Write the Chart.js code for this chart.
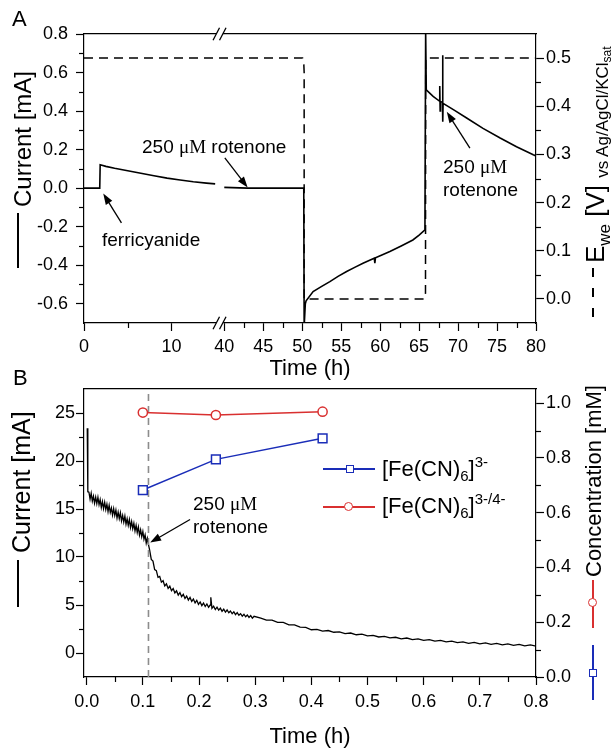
<!DOCTYPE html>
<html><head><meta charset="utf-8">
<script src="https://cdn.jsdelivr.net/npm/chart.js@4.4.0/dist/chart.umd.min.js"></script>
<style>
html,body{margin:0;padding:0;background:#fff;}
#wrap{position:relative;width:613px;height:748px;overflow:hidden;font-family:"Liberation Sans",Arial,sans-serif;color:#000;}
.cv{position:absolute;left:0;z-index:0;}
.t{position:absolute;white-space:nowrap;line-height:1;z-index:2;}
.r{transform-origin:0 0;transform:rotate(-90deg);}
.mu{font-family:"Liberation Serif","Times New Roman",serif;}
.sub{position:relative;}
.bx{position:absolute;z-index:3;}
</style></head><body>
<div id="wrap">
  <canvas id="cA" class="cv" width="613" height="385" style="top:0;"></canvas>
  <canvas id="cB" class="cv" width="613" height="376" style="top:372px;"></canvas>

  <!-- panel letters -->
  <div class="t" style="left:12px;top:8px;font-size:22px;">A</div>
  <div class="t" style="left:13px;top:367px;font-size:22px;">B</div>

  <!-- panel A annotations -->
  <div class="t" style="left:102px;top:230px;font-size:19px;">ferricyanide</div>
  <div class="t" style="left:142px;top:137px;font-size:19px;">250 <span class="mu">μM</span> rotenone</div>
  <div class="t" style="left:443px;top:157px;font-size:19px;">250 <span class="mu">μM</span></div>
  <div class="t" style="left:443px;top:180px;font-size:19px;">rotenone</div>

  <!-- panel A axis titles -->
  <div class="t r" style="left:11px;top:207px;font-size:24px;">Current [mA]</div>
  <div class="bx" style="left:17px;top:213px;width:2px;height:55px;background:#000;"></div>
  <div class="t r" style="left:582px;top:263px;font-size:26px;">E<span class="sub" style="font-size:17px;top:6px;">we</span> [V] <span class="sub" style="font-size:17px;top:4px;">vs Ag/AgCl/KCl<span class="sub" style="font-size:12px;top:3px;">sat</span></span></div>
  <div class="bx" style="left:592px;top:268px;height:50px;width:2px;background:repeating-linear-gradient(to bottom,#000 0 9px,transparent 9px 20px);"></div>

  <!-- panel B annotations -->
  <div class="t" style="left:193px;top:494px;font-size:19px;">250 <span class="mu">μM</span></div>
  <div class="t" style="left:193px;top:517px;font-size:19px;">rotenone</div>

  <!-- panel B legend -->
  <div class="bx" style="left:323px;top:468px;width:52px;height:1.5px;background:#1a2db8;"></div>
  <div class="bx" style="left:345.5px;top:464.5px;width:6px;height:6px;border:1.5px solid #1a2db8;background:#fff;"></div>
  <div class="t" style="left:382px;top:458px;font-size:22px;">[Fe(CN)<span class="sub" style="font-size:15px;top:5px;">6</span>]<span class="sub" style="font-size:15px;top:-9px;">3-</span></div>
  <div class="bx" style="left:323px;top:506px;width:52px;height:1.5px;background:#d93030;"></div>
  <div class="bx" style="left:344px;top:501.5px;width:7px;height:7px;border:1.5px solid #d93030;border-radius:50%;background:#fff;"></div>
  <div class="t" style="left:382px;top:495px;font-size:22px;">[Fe(CN)<span class="sub" style="font-size:15px;top:5px;">6</span>]<span class="sub" style="font-size:15px;top:-9px;">3-/4-</span></div>

  <!-- panel B axis titles -->
  <div class="t r" style="left:9px;top:553px;font-size:25px;">Current [mA]</div>
  <div class="bx" style="left:17px;top:560px;width:2px;height:47px;background:#000;"></div>
  <div class="t r" style="left:583px;top:577px;font-size:22px;">Concentration [mM]</div>
  <div class="bx" style="left:592px;top:580px;width:2px;height:48px;background:#d93030;"></div>
  <div class="bx" style="left:588px;top:598px;width:7px;height:7px;border:1.5px solid #d93030;border-radius:50%;background:#fff;"></div>
  <div class="bx" style="left:592px;top:645px;width:2px;height:55px;background:#1a2db8;"></div>
  <div class="bx" style="left:588.5px;top:669px;width:6px;height:6px;border:1.5px solid #1a2db8;background:#fff;"></div>
</div>
<script>
// ================= DATA: panel A =================
const timeA_h = [0, 1.8, 1.85, 2.5, 3.5, 5, 6.5, 8, 9.5, 11, 12.5, 14, 15, 15.5,
  40, 43, 50.2, 50.25, 50.4, 50.5, 51.4, 52.5, 53.55, 54.6, 55.7, 56.8, 57.8, 58.8,
  59.25, 59.32, 59.4, 60.3, 61.25, 62.7, 64.2, 65.0, 65.75, 65.84, 65.92, 66.8, 67.6,
  67.65, 67.7, 67.75, 68.0, 68.02, 68.05, 68.08, 69.5, 71.1, 73.2, 75.4, 77.5, 79.65, 80];
const currentA_mA = [0, 0, 0.121, 0.113, 0.103, 0.09, 0.077, 0.064, 0.052, 0.042, 0.033, 0.026, 0.022, null,
  0.004, 0.0, 0.0, -0.72, -0.6, -0.585, -0.537, -0.51, -0.485, -0.458, -0.433, -0.41, -0.39, -0.372,
  -0.364, -0.39, -0.362, -0.346, -0.329, -0.3, -0.269, -0.244, -0.217, 0.82, 0.51, 0.476, 0.452,
  0.53, 0.40, 0.45, 0.445, 0.69, 0.345, 0.44, 0.405, 0.364, 0.31, 0.26, 0.215, 0.173, 0.167];
const timeEwe_h = [0, 50.05, 50.2, 50.25, 50.25, 65.7, 65.82, 65.85, 80];
const ewe_V     = [0.5, 0.5, 0.49, 0.47, 0.0, 0.0, 0.012, 0.5, 0.5];
const xTicksA_major = [0, 10, 40, 45, 50, 55, 60, 65, 70, 75, 80];
const xTicksA_minor = [5, 42.5, 47.5, 52.5, 57.5, 62.5, 67.5, 72.5, 77.5];
const yTicksA_major = [-0.6, -0.4, -0.2, 0, 0.2, 0.4, 0.6, 0.8];
const yTicksA_minor = [-0.5, -0.3, -0.1, 0.1, 0.3, 0.5, 0.7];
const yRTicksA_major = [0, 0.1, 0.2, 0.3, 0.4, 0.5];
const yRTicksA_minor = [0.05, 0.15, 0.25, 0.35, 0.45];
const axisBreakA_h = 15.5;
const arrowsA = [ {from:[4.28,-0.18], to:[2.2,-0.028]}, {from:[40.07,0.157], to:[43.0,0.003]}, {from:[71.52,0.208], to:[68.55,0.396]} ];

// ================= DATA: panel B =================
const timeB_h = [0.001,0.002,
  0.004,0.006,0.008,0.010,0.012,0.014,0.016,0.018,0.020,0.022,0.024,0.026,0.028,0.030,0.032,0.034,0.036,0.038,
  0.040,0.042,0.044,0.046,0.048,0.050,0.052,0.054,0.056,0.058,0.060,0.062,0.064,0.066,0.068,0.070,0.072,0.074,
  0.076,0.078,0.080,0.082,0.084,0.086,0.088,0.090,0.092,0.094,0.096,0.098,0.100,0.102,0.104,0.106,0.108,0.110,
  0.112,0.115,0.118,0.121,0.124,0.127,0.130,0.133,0.136,0.139,0.142,0.145,0.148,0.151,0.154,0.157,0.160,0.163,
  0.166,0.169,0.172,0.175,0.178,0.181,0.184,0.187,0.190,0.193,0.196,0.199,0.202,0.205,0.208,0.211,0.214,0.217,
  0.220,0.221,0.223,0.226,0.229,0.232,0.235,0.238,0.241,0.244,0.247,0.250,0.253,0.256,0.259,0.262,0.265,0.268,
  0.271,0.274,0.277,0.280,0.283,0.286,0.289,0.292,0.295,0.298,
  0.31,0.32,0.33,0.34,0.35,0.36,0.37,0.38,0.39,0.40,0.41,0.42,0.43,0.44,0.45,0.46,0.47,0.48,0.49,0.50,
  0.51,0.52,0.53,0.54,0.55,0.56,0.57,0.58,0.59,0.60,0.61,0.62,0.63,0.64,0.65,0.66,0.67,0.68,0.69,0.70,
  0.71,0.72,0.73,0.74,0.75,0.76,0.77,0.78,0.79,0.80];
const currentB_mA = [23.4,16.8,
  16.75,16.02,16.65,15.82,16.34,15.61,16.23,15.56,16.23,15.45,15.97,15.15,15.77,15.04,15.71,14.94,15.51,14.73,
  15.40,14.63,15.10,14.37,15.04,14.32,14.89,14.06,14.67,13.99,14.60,13.76,14.33,13.64,14.26,13.42,13.98,13.30,
  13.91,13.07,13.69,12.95,13.51,12.71,13.30,12.55,13.14,12.29,12.83,12.12,12.67,11.85,12.30,11.45,11.95,11.3,
  10.75,9.75,9.58,8.68,8.58,7.88,7.98,7.38,7.53,6.98,7.2,6.72,6.96,6.49,6.72,6.25,6.47,6.04,
  6.3,5.86,6.11,5.68,5.93,5.51,5.79,5.37,5.62,5.22,5.49,5.07,5.32,4.94,5.2,4.84,5.11,4.77,
  5.0,5.8,4.65,4.88,4.53,4.77,4.46,4.68,4.35,4.56,4.26,4.48,4.19,4.38,4.09,4.29,4.0,4.2,
  3.93,4.1,3.84,4.04,3.77,3.96,3.7,3.89,3.63,3.82,
  3.64,3.42,3.42,3.18,3.18,2.94,2.94,2.7,2.66,2.42,2.46,2.27,2.34,2.16,2.21,2.02,2.08,1.9,1.96,1.78,
  1.84,1.67,1.74,1.57,1.64,1.48,1.56,1.4,1.48,1.32,1.4,1.24,1.32,1.16,1.24,1.08,1.16,1.01,1.1,0.96,
  1.05,0.9,1.0,0.85,0.95,0.8,0.9,0.75,0.85,0.72];
const sampleTimes_h   = [0.1, 0.23, 0.42];
const ferricyanide_mM = [0.683, 0.795, 0.872];
const totalFeCN_mM    = [0.966, 0.957, 0.969];
const rotenoneTimeB_h = 0.11;
const xTicksB_major = [0, 0.1, 0.2, 0.3, 0.4, 0.5, 0.6, 0.7, 0.8];
const xTicksB_minor = [0.05, 0.15, 0.25, 0.35, 0.45, 0.55, 0.65, 0.75];
const yTicksB_major = [0, 5, 10, 15, 20, 25];
const yTicksB_minor = [2.5, 7.5, 12.5, 17.5, 22.5];
const yRTicksB_major = [0, 0.2, 0.4, 0.6, 0.8, 1.0];
const yRTicksB_minor = [0.1, 0.3, 0.5, 0.7, 0.9];
const arrowsB = [ {from:[0.184,13.9], to:[0.113,11.5]} ];

// ================= helpers =================
const FONT = '"Liberation Sans", Arial, sans-serif';
Chart.defaults.font.family = FONT;
Chart.defaults.font.size = 18;
Chart.defaults.color = '#000';

// broken time axis of panel A: 0-15.5 h compressed segment, then 40-80 h
function uA(t){ return t <= 20 ? t * 1.122 : t - 22; }

function tickList(major, map, fmt){
  return major.map(v => ({value: map(v), lab: fmt(v)}));
}
function axis(pos, min, max, ticks, size, pad, extra){
  return Object.assign({
    type:'linear', position:pos, min, max,
    afterBuildTicks: s => { s.ticks = ticks.map(o => Object.assign({}, o)); },
    afterFit: s => { if (pos === 'left' || pos === 'right') s.width = size; else s.height = size; },
    ticks:{ autoSkip:false, maxRotation:0, padding:pad, color:'#000', font:{size:18},
      callback: (v, i, tk) => tk[i] ? tk[i].lab : '' },
    grid:{ drawOnChartArea:false, color:'#000', tickLength:8, tickWidth:1.2 },
    border:{ display:true, color:'#000', width:1.2 }
  }, extra || {});
}
function topFrame(h){
  return { type:'linear', position:'top', min:0, max:1, ticks:{display:false},
    grid:{display:false, drawTicks:false}, border:{display:true, color:'#000', width:1.2},
    afterFit: s => { s.height = h; } };
}
// short minor tick marks, placed through the scales
function minorTicks(spec){
  return { id:'minorTicks', afterDraw(chart){
    const ctx = chart.ctx, ca = chart.chartArea;
    ctx.save(); ctx.strokeStyle = '#000'; ctx.lineWidth = 1.2;
    spec.forEach(s => {
      const sc = chart.scales[s.id];
      s.values.forEach(v => {
        const p = Math.round(sc.getPixelForValue(s.map(v))) + 0.5;
        ctx.beginPath();
        if (sc.position === 'left') { ctx.moveTo(ca.left, p); ctx.lineTo(ca.left - 5, p); }
        else if (sc.position === 'right') { ctx.moveTo(ca.right, p); ctx.lineTo(ca.right + 5, p); }
        else { ctx.moveTo(p, ca.bottom); ctx.lineTo(p, ca.bottom + 5); }
        ctx.stroke();
      });
    });
    ctx.restore();
  }};
}
function drawArrow(ctx, x1, y1, x2, y2){
  const a = Math.atan2(y2 - y1, x2 - x1), L = 11, W = 3.8;
  ctx.beginPath(); ctx.moveTo(x1, y1); ctx.lineTo(x2 - Math.cos(a)*L*0.7, y2 - Math.sin(a)*L*0.7); ctx.stroke();
  ctx.beginPath(); ctx.moveTo(x2, y2);
  ctx.lineTo(x2 - L*Math.cos(a) + W*Math.sin(a), y2 - L*Math.sin(a) - W*Math.cos(a));
  ctx.lineTo(x2 - L*Math.cos(a) - W*Math.sin(a), y2 - L*Math.sin(a) + W*Math.cos(a));
  ctx.closePath(); ctx.fill();
}
function arrowPlugin(list, xmap){
  return { id:'arrows', afterDatasetsDraw(chart){
    const ctx = chart.ctx, xs = chart.scales.x, ys = chart.scales.y;
    ctx.save(); ctx.strokeStyle = '#000'; ctx.fillStyle = '#000'; ctx.lineWidth = 1.3;
    list.forEach(a => drawArrow(ctx, xs.getPixelForValue(xmap(a.from[0])), ys.getPixelForValue(a.from[1]),
                                      xs.getPixelForValue(xmap(a.to[0])), ys.getPixelForValue(a.to[1])));
    ctx.restore();
  }};
}
const breakPlugin = { id:'axisBreak', afterDraw(chart){
  const ctx = chart.ctx, ca = chart.chartArea;
  const bx = chart.scales.x.getPixelForValue(uA(axisBreakA_h));
  ctx.save();
  [ca.top, ca.bottom].forEach(y => {
    ctx.fillStyle = '#fff';
    ctx.beginPath(); ctx.moveTo(bx - 6.5, y + 6.3); ctx.lineTo(bx, y - 6.3); ctx.lineTo(bx + 6.5, y - 6.3); ctx.lineTo(bx, y + 6.3); ctx.closePath(); ctx.fill();
    ctx.strokeStyle = '#000'; ctx.lineWidth = 1.3;
    ctx.beginPath();
    ctx.moveTo(bx - 6.5, y + 6.3); ctx.lineTo(bx, y - 6.3);
    ctx.moveTo(bx, y + 6.3); ctx.lineTo(bx + 6.5, y - 6.3);
    ctx.stroke();
  });
  ctx.restore();
}};

// ================= chart A =================
const fmt1 = v => v.toFixed(1);
const ident = v => v;
new Chart(document.getElementById('cA'), {
  type:'line',
  data:{ datasets:[
    { label:'Current', data: timeA_h.map((t,i) => ({x: uA(t), y: currentA_mA[i]})), xAxisID:'x', yAxisID:'y',
      borderColor:'#000', borderWidth:1.6, pointRadius:0, tension:0, spanGaps:false },
    { label:'Ewe', data: timeEwe_h.map((t,i) => ({x: uA(t), y: ewe_V[i]})), xAxisID:'x', yAxisID:'yR',
      borderColor:'#000', borderWidth:1.5, borderDash:[9,6], pointRadius:0, tension:0 }
  ]},
  options:{
    responsive:false, animation:false,
    layout:{padding:0},
    plugins:{ legend:{display:false}, tooltip:{enabled:false} },
    scales:{
      x: axis('bottom', 0, uA(80), tickList(xTicksA_major, uA, v => String(v)), 62, 5,
        { title:{display:true, text:'Time (h)', color:'#000', font:{size:22, lineHeight:1}, padding:{top:0,bottom:5}} }),
      x2: topFrame(34),
      y: axis('left', -0.7, 0.8, tickList(yTicksA_major, ident, fmt1), 84, 8),
      yR: axis('right', -0.05, 0.55, tickList(yRTicksA_major, ident, fmt1), 77, 2)
    }
  },
  plugins:[breakPlugin, arrowPlugin(arrowsA, uA),
    minorTicks([{id:'x', values:xTicksA_minor, map:uA}, {id:'y', values:yTicksA_minor, map:ident}, {id:'yR', values:yRTicksA_minor, map:ident}])]
});

// ================= chart B =================
new Chart(document.getElementById('cB'), {
  type:'line',
  data:{ datasets:[
    { label:'[Fe(CN)6]3-/4-', data: sampleTimes_h.map((t,i) => ({x:t, y: totalFeCN_mM[i]})), yAxisID:'yR',
      borderColor:'#d93030', borderWidth:1.4, pointStyle:'circle', pointRadius:4.6, pointBorderWidth:1.5,
      pointBackgroundColor:'#fff', pointBorderColor:'#d93030' },
    { label:'[Fe(CN)6]3-', data: sampleTimes_h.map((t,i) => ({x:t, y: ferricyanide_mM[i]})), yAxisID:'yR',
      borderColor:'#1a2db8', borderWidth:1.4, pointStyle:'rect', pointRadius:6.2, pointBorderWidth:1.5,
      pointBackgroundColor:'#fff', pointBorderColor:'#1a2db8' },
    { label:'rotenone', data:[{x:rotenoneTimeB_h, y:-2.5}, {x:rotenoneTimeB_h, y:27.5}], yAxisID:'y',
      borderColor:'#8c8c8c', borderWidth:1.6, borderDash:[7,5], pointRadius:0 },
    { label:'Current', data: timeB_h.map((t,i) => ({x:t, y: currentB_mA[i]})), yAxisID:'y',
      borderColor:'#000', borderWidth:1.3, pointRadius:0, tension:0 }
  ]},
  options:{
    responsive:false, animation:false,
    layout:{padding:0},
    plugins:{ legend:{display:false}, tooltip:{enabled:false} },
    scales:{
      x: axis('bottom', -0.0048, 0.8, tickList(xTicksB_major, ident, fmt1), 71, 6,
        { title:{display:true, text:'Time (h)', color:'#000', font:{size:22, lineHeight:1}, padding:{top:0,bottom:0}} }),
      x2: topFrame(17),
      y: axis('left', -2.5, 27.5, tickList(yTicksB_major, ident, v => String(v)), 84, 1),
      yR: axis('right', 0, 1.052, tickList(yRTicksB_major, ident, fmt1), 77, 2)
    }
  },
  plugins:[arrowPlugin(arrowsB, ident),
    minorTicks([{id:'x', values:xTicksB_minor, map:ident}, {id:'y', values:yTicksB_minor, map:ident}, {id:'yR', values:yRTicksB_minor, map:ident}])]
});
</script>
</body></html>
